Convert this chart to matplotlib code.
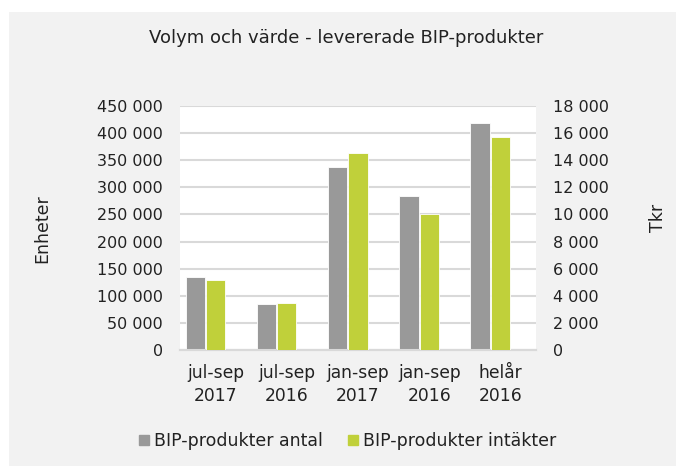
import numpy as np
import matplotlib
matplotlib.use('Agg')
import matplotlib.pyplot as plt
from matplotlib.patches import Rectangle
from matplotlib.lines import Line2D
from matplotlib.ticker import FuncFormatter

# data
categories = ['jul-sep\n2017', 'jul-sep\n2016', 'jan-sep\n2017', 'jan-sep\n2016', 'helår\n2016']
antal = [135500, 84800, 337500, 283400, 418600]       # Enheter
intakter = [5140, 3500, 14510, 10030, 15740]          # Tkr

GRAY = '#999999'
GREEN = '#c0d03a'
GRID = '#d9d9d9'
TXT = '#222222'

plt.rcParams['font.family'] = ['DejaVu Sans']
plt.rcParams['font.size'] = 11.5


def space_fmt(v, pos):
    return '{:,.0f}'.format(v).replace(',', ' ')


fig = plt.figure(figsize=(6.76, 4.66), dpi=100)
fig.patch.set_facecolor('white')
# grey chart panel
fig.patches.append(Rectangle((9 / 676, 0), 1, 1 - 12 / 466, transform=fig.transFigure,
                             facecolor='#f2f2f2', edgecolor='none', zorder=-10))

ax = fig.add_axes([180 / 676, 1 - 350 / 466, 356 / 676, 244 / 466])
ax2 = ax.twinx()

x = np.arange(len(categories))
w = 0.27
ax.bar(x - 0.285, antal, width=w, color=GRAY, edgecolor='white', linewidth=0.6, zorder=3)
ax2.bar(x, intakter, width=w, color=GREEN, edgecolor='white', linewidth=0.6, zorder=3)

ax.set_xlim(-0.5, len(categories) - 0.5)
ax.set_ylim(0, 450000)
ax.set_yticks(np.arange(0, 450001, 50000))
ax2.set_ylim(0, 18000)
ax2.set_yticks(np.arange(0, 18001, 2000))
ax.yaxis.set_major_formatter(FuncFormatter(space_fmt))
ax2.yaxis.set_major_formatter(FuncFormatter(space_fmt))

ax.set_facecolor('white')
ax.grid(axis='y', color=GRID, linewidth=1.5, zorder=0)
ax.set_axisbelow(True)
for a in (ax, ax2):
    for s in ('top', 'left', 'right'):
        a.spines[s].set_visible(False)
    a.spines['bottom'].set_color(GRID)
    a.spines['bottom'].set_linewidth(1.5)
    a.tick_params(length=0, colors=TXT, labelsize=11.5)

ax.tick_params(axis='y', pad=12.5)
ax2.tick_params(axis='y', pad=12.5)
ax.set_xticks(x)
ax.set_xticklabels(categories, linespacing=1.35, fontsize=12.3)
ax.tick_params(axis='x', pad=10)

fig.text(42 / 676, 1 - 229 / 466, 'Enheter', rotation=90, ha='center', va='center',
         fontsize=12.5, color=TXT)
fig.text(658 / 676, 1 - 218 / 466, 'Tkr', rotation=90, ha='center', va='center',
         fontsize=12.5, color=TXT)
fig.text(346 / 676, 1 - 38 / 466, 'Volym och värde - levererade BIP-produkter',
         ha='center', va='center', fontsize=13, color=TXT)

handles = [Line2D([], [], marker='s', linestyle='none', markersize=6.5, color=GRAY),
           Line2D([], [], marker='s', linestyle='none', markersize=6.5, color=GREEN)]
fig.legend(handles, ['BIP-produkter antal', 'BIP-produkter intäkter'], ncol=2,
           loc='center', bbox_to_anchor=(348 / 676, 1 - 441 / 466), frameon=False,
           fontsize=12.5, handlelength=0.5, handletextpad=0.3, columnspacing=1.5,
           labelcolor=TXT)

fig.savefig('out.png', dpi=100)
